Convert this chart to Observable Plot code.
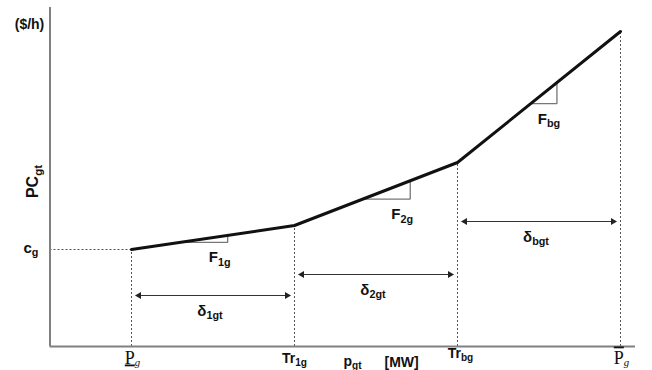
<!DOCTYPE html>
<html><head><meta charset="utf-8">
<script src="https://cdn.jsdelivr.net/npm/d3@7"></script>
<script src="https://cdn.jsdelivr.net/npm/@observablehq/plot@0.6"></script>
<style>
html,body{margin:0;padding:0;background:#fff;overflow:hidden;}
#chart svg{display:block;}
</style>
</head><body><div id="chart"></div>
<script>
// ---- data ----
const breakX = [1, 2, 3, 4];                       // P_min, Tr1, Trb, P_max (MW, schematic)
const breakLabels = ["P\u0332_{g}", "Tr_{1g}", "Tr_{bg}", "P\u0304_{g}"];
const cost = [97, 121, 184, 315];                  // production cost at the breakpoints ($/h, schematic)
const slopeLabels = ["F_{1g}", "F_{2g}", "F_{bg}"];
const slopeFrom = [1.30, 2.42, 3.45];
const slopeTo = [1.59, 2.71, 3.61];
const spanLabels = ["δ_{1gt}", "δ_{2gt}", "δ_{bgt}"];
const spanLevel = [51, 72, 125];
const xRange = [0.5, 4.092];
const yRange = [0, 339];
const yTitle = "PC_{gt}";
const yUnit = "($/h)";
const xTitle = "p_{gt}";
const xUnit = "[MW]";
const fixedCostLabel = "c_{g}";

// ---- derived tables ----
const points = breakX.map((x, i) => ({x, c: cost[i], label: breakLabels[i]}));
const f = d3.scaleLinear(breakX, cost);
const tri = slopeFrom.flatMap((x0, i) => {
  const x1 = slopeTo[i];
  return [{k: i, x: x0, c: f(x0)}, {k: i, x: x1, c: f(x0)}, {k: i, x: x1, c: f(x1)}];
});
const triLabels = slopeLabels.map((label, i) => ({x: slopeTo[i], c: f(slopeFrom[i]), label}));
const spans = spanLabels.map((label, i) => ({x1: breakX[i], x2: breakX[i + 1], c: spanLevel[i], label}));
const yMid = (yRange[0] + yRange[1]) / 2;
const xMid = (breakX[1] + breakX[2]) / 2;

const ink = "#111";
const dash = {stroke: "#555", strokeWidth: 1, strokeDasharray: "2,2"};
const bold = {fontWeight: "bold", fill: ink, lineAnchor: "bottom"};

const plot = Plot.plot({
  width: 652, height: 370,
  marginLeft: 49.5, marginRight: 17, marginTop: 7, marginBottom: 24,
  x: {domain: xRange, axis: null},
  y: {domain: yRange, axis: null},
  style: {fontFamily: "'Liberation Sans', Arial, sans-serif", background: "#fff", overflow: "visible"},
  marks: [
    // dashed guides
    Plot.ruleX(points, {x: "x", y1: 0, y2: "c", ...dash}),
    Plot.ruleY([points[0]], {y: "c", x1: xRange[0], x2: "x", ...dash}),
    // axes
    Plot.ruleX([xRange[0]], {y1: yRange[0], y2: yRange[1], stroke: "#808080", strokeWidth: 2}),
    Plot.ruleY([0], {x1: xRange[0], x2: xRange[1], stroke: "#808080", strokeWidth: 2}),
    // span arrows
    Plot.ruleY(spans, {y: "c", x1: "x1", x2: "x2", insetLeft: 5, insetRight: 5, stroke: "#333", strokeWidth: 1.2}),
    Plot.dot(spans, {x: "x1", y: "c", symbol: "triangle", rotate: -90, r: 2.6, fill: "#222", stroke: "none", dx: 7.5}),
    Plot.dot(spans, {x: "x2", y: "c", symbol: "triangle", rotate: 90, r: 2.6, fill: "#222", stroke: "none", dx: -7.5}),
    // slope triangles
    Plot.line(tri, {x: "x", y: "c", z: "k", stroke: "#777", strokeWidth: 1.3, strokeLinejoin: "miter"}),
    // cost curve
    Plot.line(points, {x: "x", y: "c", stroke: ink, strokeWidth: 3}),
    // labels
    Plot.text(triLabels, {x: "x", y: "c", text: "label", dx: -8, dy: 20, fontSize: 15, ...bold}),
    Plot.text(spans, {x: d => (d.x1 + d.x2) / 2, y: "c", text: "label", dx: -3, dy: 20, fontSize: 15, ...bold}),
    Plot.text([points[1]], {x: "x", y: 0, text: "label", dy: 16, fontSize: 14, ...bold}),
    Plot.text([points[2]], {x: "x", y: 0, text: "label", dx: 3, dy: 11, fontSize: 14, ...bold}),
    Plot.text([points[0], points[3]], {x: "x", y: 0, text: "label", dx: 1, dy: 17, fontSize: 18, fill: ink, lineAnchor: "bottom", fontFamily: "'Liberation Serif', 'Times New Roman', serif"}),
    Plot.text([xTitle], {x: () => xMid, y: () => 0, text: d => d, textAnchor: "start", dx: -32.5, dy: 19, fontSize: 14, ...bold}),
    Plot.text([xUnit], {x: () => xMid, y: () => 0, text: d => d, textAnchor: "start", dx: 8.5, dy: 20, fontSize: 14, ...bold}),
    Plot.text([yTitle], {x: () => xRange[0], y: () => yMid, text: d => d, rotate: -90, dx: -12.5, dy: 4.5, fontSize: 16, ...bold}),
    Plot.text([yUnit], {x: () => xRange[0], y: () => yRange[1], text: d => d, dx: -20.5, dy: 21, fontSize: 14, ...bold}),
    Plot.text([fixedCostLabel], {x: () => xRange[0], y: () => cost[0], text: d => d, dx: -19, dy: 3, fontSize: 15, ...bold})
  ]
});

document.getElementById("chart").append(plot);

// ---- turn "base_{sub}" into real subscripts ----
const NS = "http://www.w3.org/2000/svg";
function tspan(s) { const e = document.createElementNS(NS, "tspan"); e.textContent = s; return e; }
for (const t of plot.querySelectorAll("text")) {
  const s = t.textContent;
  const m = /^(.*?)_\{(.*)\}$/.exec(s);
  if (!m) continue;
  const cs = getComputedStyle(t);
  const size = parseFloat(cs.fontSize);
  const serif = /serif/i.test(cs.fontFamily) && !/sans/i.test(cs.fontFamily.split(",")[0]);
  let base = m[1], deco = null;
  if (base.endsWith("\u0332")) { deco = "underline"; base = base.slice(0, -1); }
  else if (base.endsWith("\u0304")) { deco = "overline"; base = base.slice(0, -1); }
  const host = t.querySelector("tspan") || t;
  host.textContent = "";
  const a = tspan(base);
  if (deco) a.style.textDecoration = deco;
  const b = tspan(m[2]);
  b.setAttribute("font-size", (size * (serif ? 0.6 : 0.72)).toFixed(1));
  b.setAttribute("dy", (size * (serif ? 0.15 : 0.26)).toFixed(1));
  if (serif) b.setAttribute("font-style", "italic");
  host.append(a, b);
}
</script>
</body></html>
